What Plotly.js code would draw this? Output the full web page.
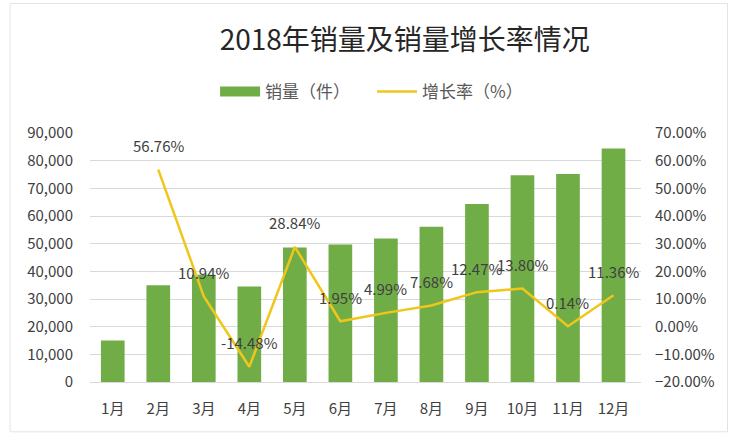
<!DOCTYPE html>
<html>
<head>
<meta charset="utf-8">
<script src="https://cdn.plot.ly/plotly-3.0.1.min.js"></script>
<style>
  html, body { margin: 0; padding: 0; background: #fff; }
  #plot { width: 736px; height: 447px; }
</style>
</head>
<body>
<div id="plot"></div>
<script>
const months = ['1月', '2月', '3月', '4月', '5月', '6月', '7月', '8月', '9月', '10月', '11月', '12月']
const sales = [15000, 35000, 38800, 34500, 48600, 49700, 51900, 56100, 64300, 74700, 75200, 84400]
const growth = [null, 56.76, 10.94, -14.48, 28.84, 1.95, 4.99, 7.68, 12.47, 13.80, 0.14, 11.36]

const font = '"Noto Sans CJK SC", "Noto Sans", sans-serif'
const green = '#70AD47'
const gold = '#F0C61B'

const barTrace = {
  x: months,
  y: sales,
  type: 'bar',
  name: '销量（件）',
  marker: { color: green },
  showlegend: false,
  hoverinfo: 'x+y'
}

// legend-only entry so the bar key is drawn as a wide block like Excel
const barKey = {
  x: [null],
  y: [null],
  type: 'scatter',
  mode: 'lines',
  name: '销量（件）',
  line: { color: green, width: 10 },
  hoverinfo: 'skip'
}

const lineTrace = {
  x: months,
  y: growth,
  type: 'scatter',
  mode: 'lines',
  name: '增长率（%）',
  yaxis: 'y2',
  line: { color: gold, width: 2.5 },
  connectgaps: false
}

// data labels above each growth point
let labels = []
months.forEach((m, i) => {
  if (growth[i] === null) return
  labels.push({
    x: m,
    y: growth[i],
    yref: 'y2',
    text: growth[i].toFixed(2) + '%',
    showarrow: false,
    yshift: 24,
    font: { family: font, size: 15, color: '#404040' }
  })
})

const layout = {
  width: 736,
  height: 447,
  margin: { l: 90, r: 95, t: 133, b: 65 },
  paper_bgcolor: '#fff',
  plot_bgcolor: '#fff',
  font: { family: font, color: '#404040', size: 15 },
  title: {
    text: '2018年销量及销量增长率情况',
    font: { family: font, size: 28, color: '#262626' },
    x: 0.55, xanchor: 'center',
    y: 0.91, yanchor: 'middle'
  },
  showlegend: true,
  legend: {
    orientation: 'h',
    x: 0.227, xanchor: 'left',
    y: 1.165, yanchor: 'middle',
    font: { family: font, size: 17, color: '#595959' },
    itemwidth: 40,
    entrywidth: 102,
    entrywidthmode: 'pixels'
  },
  bargap: 0.48,
  xaxis: {
    type: 'category',
    showgrid: false,
    zeroline: false,
    showline: false,
    ticks: '',
    ticklabelstandoff: 16,
    tickfont: { family: font, size: 15, color: '#404040' }
  },
  yaxis: {
    range: [0, 90000],
    dtick: 10000,
    tickformat: ',d',
    showgrid: true,
    gridcolor: '#D9D9D9',
    zeroline: true,
    zerolinecolor: '#D9D9D9',
    showline: false,
    ticks: '',
    ticklabelstandoff: 16,
    tickfont: { family: font, size: 15, color: '#404040' }
  },
  yaxis2: {
    overlaying: 'y',
    side: 'right',
    range: [-20, 70],
    dtick: 10,
    ticksuffix: '%',
    tickformat: '.2f',
    showgrid: false,
    zeroline: false,
    showline: false,
    ticks: '',
    ticklabelstandoff: 13,
    tickfont: { family: font, size: 15, color: '#404040' }
  },
  annotations: labels,
  shapes: [{
    type: 'rect', xref: 'paper', yref: 'paper',
    x0: -0.145, x1: 1.157, y0: -0.2, y1: 1.52,
    line: { color: '#E3E3E3', width: 1 }
  }]
}

Plotly.newPlot('plot', [barTrace, barKey, lineTrace], layout, { displayModeBar: false, staticPlot: true })
</script>
</body>
</html>
